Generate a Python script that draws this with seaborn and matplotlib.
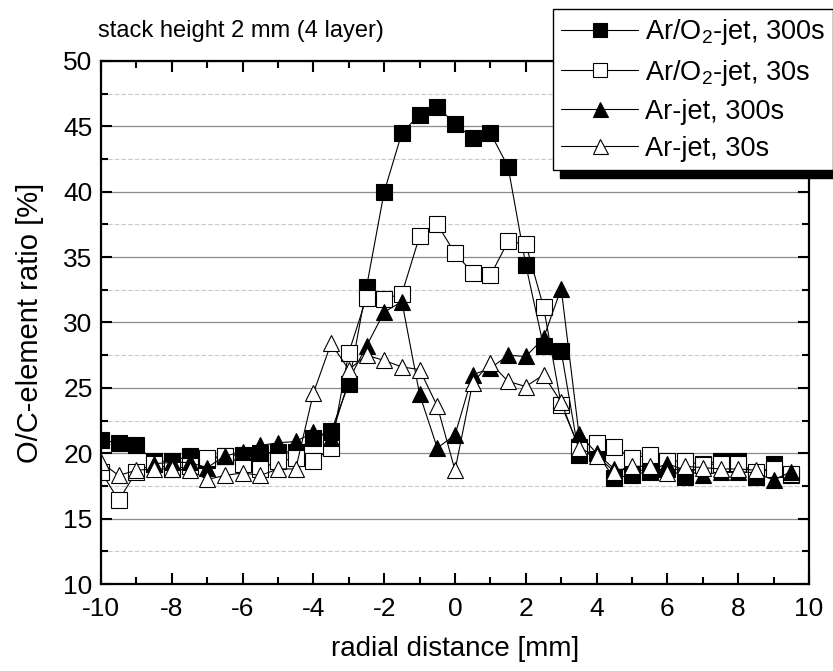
import numpy as np
import matplotlib
matplotlib.use("Agg")
import matplotlib.pyplot as plt
from matplotlib.ticker import MultipleLocator
import seaborn as sns

# radial positions [mm]
x_full = [-10, -9.5, -9, -8.5, -8, -7.5, -7, -6.5, -6, -5.5, -5, -4.5, -4, -3.5,
          -3, -2.5, -2, -1.5, -1, -0.5, 0, 0.5, 1, 1.5, 2, 2.5, 3, 3.5, 4, 4.5,
          5, 5.5, 6, 6.5, 7, 7.5, 8, 8.5, 9, 9.5]
x_ar300 = [-8.5, -8, -7.5, -7, -6.5, -6, -5.5, -5, -4.5, -4, -3.5,
           -3, -2.5, -2, -1.5, -1, -0.5, 0, 0.5, 1, 1.5, 2, 2.5, 3, 3.5, 4, 4.5,
           5, 5.5, 6, 6.5, 7, 7.5, 8, 8.5, 9, 9.5]
x_ar30 = [-10, -9.5, -9, -8.5, -8, -7.5, -7, -6.5, -6, -5.5, -5, -4.5, -4, -3.5,
          -3, -2.5, -2, -1.5, -1, -0.5, 0, 0.5, 1, 1.5, 2, 2.5, 3, 3.5, 4, 4.5,
          5, 5.5, 6, 6.5, 7, 7.5, 8, 8.5]

# O/C ratio [%]
arO2_300 = [21.0, 20.8, 20.6, 19.4, 19.4, 19.8, 19.5, 19.8, 19.9, 20.0, 20.1, 20.1, 21.2, 21.7,
            25.3, 32.7, 40.0, 44.5, 45.9, 46.5, 45.2, 44.1, 44.5, 41.9, 34.4, 28.2, 27.8, 19.9, 20.0, 18.1,
            18.35, 18.6, 18.8, 18.2, 19.2, 19.4, 19.4, 18.2, 19.2, 18.35]
arO2_30 = [18.6, 16.4, 18.6, 19.2, 18.8, 19.0, 19.6, 19.8, 19.2, 18.8, 19.4, 19.6, 19.4, 20.4,
           27.7, 31.9, 31.8, 32.2, 36.6, 37.5, 35.3, 33.8, 33.6, 36.2, 36.0, 31.2, 23.7, 20.5, 20.8, 20.5,
           19.6, 19.9, 19.4, 19.4, 19.1, 19.2, 19.2, 18.6, 18.8, 18.4]
ar_300 = [19.2, 19.3, 19.3, 18.9, 19.8, 20.1, 20.6, 20.8, 20.9, 21.6, 21.2,
          25.6, 28.2, 30.8, 31.6, 24.5, 20.4, 21.4, 26.0, 26.5, 27.5, 27.4, 28.8, 32.6, 21.5, 20.0, 18.8,
          18.7, 18.7, 19.2, 18.7, 18.3, 18.6, 18.6, 18.5, 17.95, 18.6]
ar_30 = [19.3, 18.3, 18.7, 18.8, 18.8, 18.7, 18.0, 18.3, 18.5, 18.3, 18.8, 18.8, 24.6, 28.4,
         26.4, 27.5, 27.1, 26.6, 26.4, 23.6, 18.7, 25.4, 26.9, 25.5, 25.1, 26.0, 23.9, 20.4, 19.8, 18.6,
         19.0, 19.0, 18.5, 19.0, 18.9, 18.8, 18.8, 18.7]

labels = ["Ar/O$_{\\mathregular{2}}$-jet, 300s", "Ar/O$_{\\mathregular{2}}$-jet, 30s",
          "Ar-jet, 300s", "Ar-jet, 30s"]

sns.set_style("ticks")
plt.rcParams['font.family'] = ['Liberation Sans', 'DejaVu Sans']
plt.rcParams['mathtext.fontset'] = 'custom'
plt.rcParams['mathtext.rm'] = 'Liberation Sans'
plt.rcParams['axes.unicode_minus'] = False
plt.rcParams['text.color'] = 'black'
plt.rcParams['axes.labelcolor'] = 'black'
plt.rcParams['xtick.color'] = 'black'
plt.rcParams['ytick.color'] = 'black'

fig = plt.figure(figsize=(8.33, 6.71), dpi=100)
ax = fig.add_axes([101 / 833, 1 - 584 / 671, (809 - 101) / 833, (584 - 61) / 671])

series = [
    (x_full, arO2_300, 's', 'black'),
    (x_full, arO2_30, 's', 'white'),
    (x_ar300, ar_300, '^', 'black'),
    (x_ar30, ar_30, '^', 'white'),
]
for (xs, ys, m, fc), lab in zip(series, labels):
    sns.lineplot(x=xs, y=ys, ax=ax, estimator=None, sort=False, color='black',
                 linewidth=0.8, marker=m, markersize=11 if m == 's' else 12,
                 markerfacecolor=fc, markeredgecolor='black', markeredgewidth=0.8,
                 label=lab, legend=False)

ax.set_xlim(-10, 10)
ax.set_ylim(10, 50)
ax.xaxis.set_major_locator(MultipleLocator(2))
ax.xaxis.set_minor_locator(MultipleLocator(1))
ax.yaxis.set_major_locator(MultipleLocator(5))
ax.yaxis.set_minor_locator(MultipleLocator(2.5))
ax.grid(axis='y', which='major', color='#8c8c8c', linewidth=0.9, linestyle='-')
ax.grid(axis='y', which='minor', color='#c8c8c8', linewidth=0.8, linestyle=(0, (4, 2)))
ax.set_axisbelow(True)

ax.tick_params(which='both', direction='in', top=True, right=True, labelsize=19, width=1.5)
ax.tick_params(which='major', length=8)
ax.tick_params(which='minor', length=5)
ax.tick_params(axis='x', pad=9)
ax.tick_params(axis='y', pad=6)
for s in ax.spines.values():
    s.set_linewidth(1.6)
    s.set_color('black')

ax.set_xlabel("radial distance [mm]", fontsize=20, labelpad=11)
ax.set_ylabel("O/C-element ratio [%]", fontsize=21, labelpad=14)

fig.text(98 / 833, 1 - 31 / 671, "stack height 2 mm (4 layer)", fontsize=17,
         ha='left', va='center')

handles, labs = ax.get_legend_handles_labels()
leg = fig.legend(handles, labs, loc='upper left', bbox_to_anchor=(553 / 833, 1 - 9 / 671),
                 fontsize=19.5, frameon=True, fancybox=False, markerscale=0.9,
                 handlelength=2.85, handletextpad=0.25, labelspacing=0.4,
                 borderpad=0.3, borderaxespad=0,
                 shadow={'color': 'black', 'alpha': 1, 'ox': 5, 'oy': -6})
leg.get_frame().set_edgecolor('black')
leg.get_frame().set_linewidth(1.0)
leg.get_frame().set_alpha(1)

fig.savefig("out.png", dpi=100)
